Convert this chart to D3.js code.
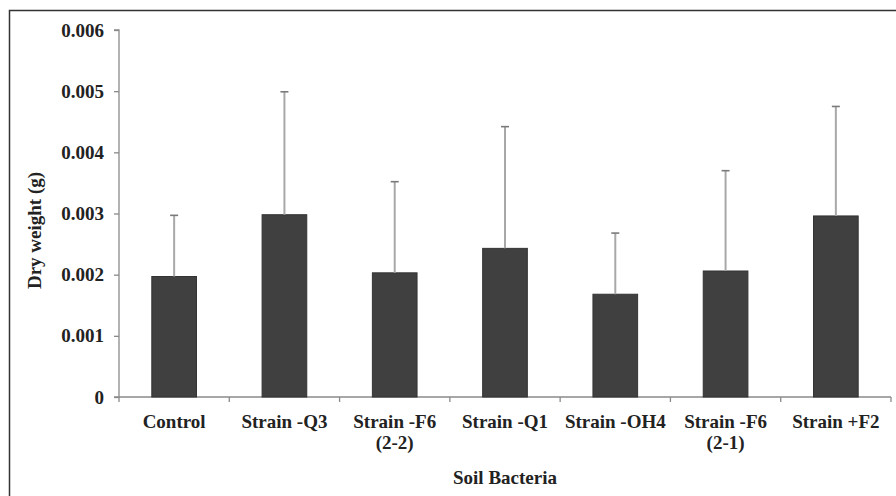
<!DOCTYPE html>
<html><head><meta charset="utf-8">
<script src="https://cdn.jsdelivr.net/npm/d3@7"></script>
<style>html,body{margin:0;padding:0;background:#fff;}svg{display:block;}
text{font-family:"Liberation Serif","Times New Roman",serif;font-weight:bold;}</style>
</head><body>
<svg id="chart" width="896" height="496"></svg>
<script>
const categories = ["Control", "Strain -Q3", "Strain -F6\n(2-2)", "Strain -Q1", "Strain -OH4", "Strain -F6\n(2-1)", "Strain +F2"];
const means = [0.00197, 0.00298, 0.00203, 0.00243, 0.00168, 0.00206, 0.00296];
const errors = [0.00100, 0.00201, 0.00149, 0.00199, 0.00100, 0.00164, 0.00179];
const yTicks = [0, 0.001, 0.002, 0.003, 0.004, 0.005, 0.006];
const yLabel = "Dry weight (g)";
const xLabel = "Soil Bacteria";

(function () {
const svg = d3.select("#chart");
const font = "Liberation Serif";
const mLeft = 119, mRight = 891, mTop = 30, mBottom = 397;

svg.append("rect").attr("x", 9.5).attr("y", 10.5).attr("width", 1000).attr("height", 1000)
  .attr("fill", "none").attr("stroke", "#333").attr("stroke-width", 1.5);

const x = d3.scaleBand().domain(categories).range([mLeft, mRight]).paddingInner(0.595).paddingOuter(0.2975);
const xTickScale = d3.scaleLinear().domain([0, categories.length]).range([mLeft, mRight]);
const y = d3.scaleLinear().domain([0, 0.006]).range([mBottom, mTop]);

function styleText(sel) {
  return sel.style("font-family", font).style("font-weight", "bold").style("font-size", "19px").attr("fill", "#222");
}

// y axis
const yAxis = d3.axisLeft(y).tickValues(yTicks).tickSize(5).tickPadding(10)
  .tickFormat(d => d === 0 ? "0" : d3.format(".3f")(d));
const gy = svg.append("g").attr("transform", `translate(${mLeft},0)`).call(yAxis);
gy.attr("font-family", null).attr("font-size", null);
gy.select(".domain").attr("stroke", "#8a8a8a").attr("stroke-width", 1.3).attr("d", `M-5,${mTop}H0V${mBottom}H-5`);
gy.selectAll(".tick line").attr("stroke", "#8a8a8a").attr("stroke-width", 1.3);
styleText(gy.selectAll(".tick text"));

// x axis baseline and ticks
const gx = svg.append("g");
gx.append("line").attr("x1", mLeft).attr("x2", mRight).attr("y1", mBottom).attr("y2", mBottom)
  .attr("stroke", "#8a8a8a").attr("stroke-width", 1.3);
gx.selectAll("line.xt").data(d3.range(categories.length + 1)).join("line").attr("class", "xt")
  .attr("x1", d => xTickScale(d)).attr("x2", d => xTickScale(d))
  .attr("y1", mBottom).attr("y2", mBottom + 5).attr("stroke", "#8a8a8a").attr("stroke-width", 1.3);

// bars
svg.append("g").selectAll("rect").data(categories).join("rect")
  .attr("x", d => x(d)).attr("width", x.bandwidth())
  .attr("y", (d, i) => y(means[i])).attr("height", (d, i) => mBottom - y(means[i]))
  .attr("fill", "#404040").attr("stroke", "#333").attr("stroke-width", 1);

// error bars
const eg = svg.append("g");
categories.forEach((c, i) => {
  const cx = x(c) + x.bandwidth() / 2;
  eg.append("line").attr("x1", cx).attr("x2", cx).attr("y1", y(means[i])).attr("y2", y(means[i] + errors[i]))
    .attr("stroke", "#a8a8a8").attr("stroke-width", 2);
  eg.append("line").attr("x1", cx - 4).attr("x2", cx + 4).attr("y1", y(means[i] + errors[i])).attr("y2", y(means[i] + errors[i]))
    .attr("stroke", "#7a7a7a").attr("stroke-width", 1.6);
});

// category labels
const lg = svg.append("g");
categories.forEach(c => {
  const cx = x(c) + x.bandwidth() / 2;
  const t = styleText(lg.append("text").attr("x", cx).attr("y", 428).attr("text-anchor", "middle"));
  c.split("\n").forEach((ln, k) => t.append("tspan").attr("x", cx).attr("dy", k === 0 ? 0 : 21).text(ln));
});

// axis titles
styleText(svg.append("text").attr("x", (mLeft + mRight) / 2).attr("y", 484).attr("text-anchor", "middle")).text(xLabel);
styleText(svg.append("text").attr("transform", `translate(41,${(mTop + mBottom) / 2 + 17}) rotate(-90)`).attr("text-anchor", "middle")).text(yLabel);
})();
</script>
</body></html>
